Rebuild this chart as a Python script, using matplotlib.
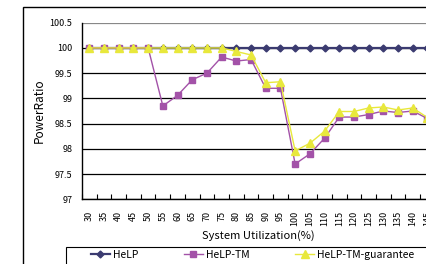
import matplotlib
matplotlib.use("Agg")
from matplotlib import pyplot as plt
from matplotlib.patches import Rectangle

# power ratio vs. system utilization
util = [30, 35, 40, 45, 50, 55, 60, 65, 70, 75, 80, 85,
        90, 95, 100, 105, 110, 115, 120, 125, 130, 135, 140, 145]
help_ratio = [100, 100, 100, 100, 100, 100, 100, 100, 100, 100, 100, 100,
              100, 100, 100, 100, 100, 100, 100, 100, 100, 100, 100, 100]
tm_ratio = [100, 100, 100, 100, 100, 98.85, 99.06, 99.37, 99.5, 99.82, 99.74, 99.77,
            99.2, 99.2, 97.70, 97.90, 98.21, 98.63, 98.63, 98.68, 98.75, 98.72, 98.75, 98.6]
guar_ratio = [100, 100, 100, 100, 100, 100, 100, 100, 100, 100, 99.93, 99.86,
              99.31, 99.33, 97.96, 98.11, 98.35, 98.74, 98.74, 98.81, 98.83, 98.77, 98.81, 98.62]
series_names = ["HeLP", "HeLP-TM", "HeLP-TM-guarantee"]
yticks = [97, 97.5, 98, 98.5, 99, 99.5, 100, 100.5]

plt.rcParams['font.family'] = ['Noto Sans CJK JP', 'DejaVu Sans']

W, H = 427.0, 264.0
fig = plt.figure(figsize=(W / 100, H / 100), dpi=100)
ax = fig.add_axes([82 / W, 64.7 / H, 352.8 / W, 176.6 / H])

idx = list(range(len(util)))
ax.plot(idx, help_ratio, color='#3b3b70', lw=1.6, marker='D', ms=3.5, label=series_names[0])
ax.plot(idx, tm_ratio, color='#a352a8', lw=1.0, marker='s', ms=4.3, label=series_names[1])
ax.plot(idx, guar_ratio, color='#e8e83c', lw=1.0, marker='^', ms=5.8, label=series_names[2])

ax.set_xlim(-0.5, len(util) - 0.5)
ax.set_ylim(97, 100.5)
ax.set_yticks(yticks)
ax.set_yticklabels([('%g' % v) for v in yticks])
ax.yaxis.grid(True, color='black', lw=0.9)
ax.get_ygridlines()[-1].set_color('#888888')
ax.set_axisbelow(True)

ax.set_xticks(idx)
ax.set_xticklabels([str(u) for u in util], rotation=90)
ax.set_xticks([i - 0.5 for i in idx] + [len(util) - 0.5], minor=True)
ax.tick_params(axis='x', which='major', length=0, pad=8, labelsize=6.5)
ax.tick_params(axis='x', which='minor', direction='in', length=3.5, width=0.8)
ax.tick_params(axis='y', length=0, pad=7, labelsize=6.5)

for s in ['top', 'right']:
    ax.spines[s].set_visible(False)
for s in ['left', 'bottom']:
    ax.spines[s].set_linewidth(1.0)

ax.set_ylabel('PowerRatio', fontsize=8.5, va='center')
ax.yaxis.set_label_coords((39.5 - 82) / 352.8, 0.5)
ax.set_xlabel('System Utilization(%)', fontsize=8, va='center')
ax.xaxis.set_label_coords(0.5, -(236 - 199.3) / 176.6)

# chart frame and legend box
fig.add_artist(Rectangle((22.7 / W, -0.5), 2, 0.5 + 257 / H, transform=fig.transFigure,
                         fill=False, ec='black', lw=1.0))
fig.add_artist(Rectangle((66 / W, -0.5), 2, 0.5 + 17.3 / H, transform=fig.transFigure,
                         fill=False, ec='black', lw=0.8))
fig.legend(loc='center left', bbox_to_anchor=(91 / W, 9 / H), ncol=3, frameon=False,
           fontsize=7.5, borderpad=0, borderaxespad=0, handlelength=1.8,
           handletextpad=0.3, columnspacing=4.4)

fig.savefig('out.png', dpi=100)
